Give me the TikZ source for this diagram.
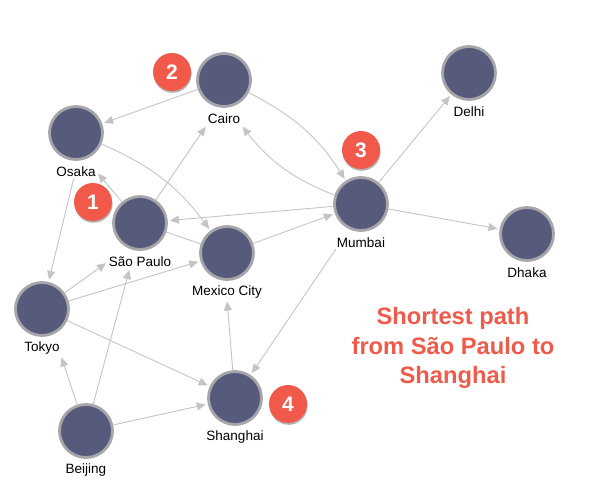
\documentclass[tikz,border=0pt]{standalone}
\usepackage{fontspec}
\setmainfont{Liberation Sans}
\usetikzlibrary{arrows.meta,shadows,backgrounds}
\definecolor{nodefill}{HTML}{565B7B}
\definecolor{nodeborder}{HTML}{A6A6AA}
\definecolor{edgegray}{HTML}{C4C4C4}
\definecolor{badgered}{HTML}{F15A4A}
\definecolor{titlered}{HTML}{EF5B4B}
\begin{document}
\begin{tikzpicture}[x=1pt,y=-1pt,
 city/.style={circle, fill=nodefill, draw=nodeborder, line width=2.8pt, minimum size=53pt, inner sep=0pt, outer sep=1.5pt},
 citylabel/.style={font=\fontsize{13.5}{16}\selectfont, inner sep=1pt},
 badge/.style={circle, fill=badgered, minimum size=38pt, inner sep=0pt, text=white, font=\fontsize{21}{24}\selectfont\bfseries, drop shadow={shadow xshift=0.6pt, shadow yshift=-1.8pt, opacity=0.3, fill=black}},
 edge/.style={draw=edgegray, line width=0.9pt, -{Triangle[length=9pt,width=8pt]}, shorten >=2pt},
 plain/.style={draw=edgegray, line width=0.9pt}
]
\useasboundingbox (0,0) rectangle (592,502);

% cities
\node[city] (cairo) at (224,80) {};
\node[citylabel] (cairoL) at (224,119) {Cairo};
\node[city] (osaka) at (76,133) {};
\node[citylabel] (osakaL) at (76,172) {Osaka};
\node[city] (sp) at (140,223) {};
\node[citylabel] (spL) at (140,262) {São Paulo};
\node[city] (mexico) at (227,253) {};
\node[citylabel] (mexicoL) at (227,292) {Mexico City};
\node[city] (mumbai) at (361,204) {};
\node[citylabel] (mumbaiL) at (361,243) {Mumbai};
\node[city] (delhi) at (469,73) {};
\node[citylabel] (delhiL) at (469,112) {Delhi};
\node[city] (dhaka) at (527,234) {};
\node[citylabel] (dhakaL) at (527,273) {Dhaka};
\node[city] (tokyo) at (42,309) {};
\node[citylabel] (tokyoL) at (42,348) {Tokyo};
\node[city] (beijing) at (86,431) {};
\node[citylabel] (beijingL) at (86,470) {Beijing};
\node[city] (shanghai) at (235,398) {};
\node[citylabel] (shanghaiL) at (235,437) {Shanghai};

% badges
\node[badge] (b1) at (93,202) {1};
\node[badge] (b2) at (172,72) {2};
\node[badge] (b3) at (361,150) {3};
\node[badge] (b4) at (288,404) {4};

% title
\node[font=\fontsize{23.7}{29.5}\selectfont\bfseries, text=titlered, align=center] (title) at (453,348) {Shortest path\\from São Paulo to\\Shanghai};

\begin{scope}[on background layer]
\draw[edge] (cairo) -- (osaka);
\draw[edge] (osaka) to[bend left=15] (mexico);
\draw[edge] (sp) -- (osakaL.east);
\draw[edge] (sp) -- (cairoL.south west);
\draw[edge] (mumbai) -- (sp);
\draw[plain] (sp) -- (mexico);
\draw[edge] (mexico) -- (mumbai);
\draw[edge] (cairo) to[bend left=15] (mumbai);
\draw[edge] (mumbai) to[bend left=15] (cairoL.south east);
\draw[edge] (mumbai) -- (delhi);
\draw[edge] (mumbai) -- (dhaka);
\draw[edge] (mumbaiL.south west) -- (shanghai);
\draw[edge] (osakaL.250) -- (tokyo);
\draw[edge] (tokyo) -- (spL.west);
\draw[edge] (tokyo) -- (mexico);
\draw[edge] (tokyo) -- (shanghai);
\draw[edge] (beijing) -- (tokyoL.south east);
\draw[edge] (beijing) -- (spL.211);
\draw[edge] (beijing) -- (shanghai);
\draw[edge] (shanghai) -- (mexicoL.south);
\end{scope}
\end{tikzpicture}
\end{document}
